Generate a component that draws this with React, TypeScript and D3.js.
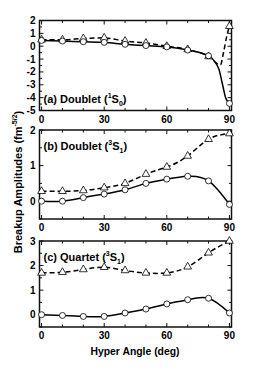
import * as d3 from "d3";

// hyperangle grid (deg) for the markers
const ANGLES = [0, 10, 20, 30, 40, 50, 60, 70, 80, 90];

// (a) doublet 1S0
const A_SOLID = [0.45, 0.4, 0.35, 0.3, 0.15, 0.05, -0.05, -0.3, -0.75, -4.45];
const A_DASH = [0.5, 0.5, 0.6, 0.65, 0.4, 0.25, 0.0, -0.25, -0.8, 1.55];
const A_SOLID_CURVE_X = [0, 10, 20, 30, 40, 50, 60, 70, 80, 84.9, 86.1, 87, 88.1, 89.2, 90];
const A_SOLID_CURVE = [0.45, 0.4, 0.35, 0.3, 0.15, 0.05, -0.05, -0.3, -0.75, -1.76, -2.54, -3.19, -3.97, -4.3, -4.45];
const A_DASH_CURVE_X = [0, 10, 20, 30, 40, 50, 60, 70, 80, 85.7, 87.2, 88.8, 90];
const A_DASH_CURVE = [0.5, 0.5, 0.6, 0.65, 0.4, 0.25, 0.0, -0.25, -0.8, -1.45, -0.47, 0.83, 1.55];
// (b) doublet 3S1
const B_SOLID = [0.0, 0.0, 0.1, 0.2, 0.32, 0.5, 0.62, 0.7, 0.57, -0.09];
const B_DASH = [0.28, 0.28, 0.3, 0.38, 0.5, 0.76, 0.96, 1.27, 1.74, 1.9];
// (c) quartet 3S1
const C_SOLID = [0.0, -0.03, -0.07, -0.07, 0.07, 0.23, 0.44, 0.61, 0.67, 0.07];
const C_DASH = [1.7, 1.73, 1.84, 1.93, 1.8, 1.7, 1.7, 1.95, 2.52, 3.0];

const X_TICKS = [0, 30, 60, 90];
const A_TICKS = [2, 1, 0, -1, -2, -3, -4, -5];
const B_TICKS = [0, 1, 2];
const C_TICKS = [0, 1, 2, 3];

const FONT = "'Liberation Sans', Arial, Helvetica, sans-serif";
const W = 262;
const H = 369;
const LEFT = 39.5;
const RIGHT = 231.5;

const panels = [
  {
    key: "a", top: 20.5, bottom: 110.5, domain: [-5, 2], solid: A_SOLID, dash: A_DASH,
    solidLine: { xs: A_SOLID_CURVE_X, ys: A_SOLID_CURVE, curve: d3.curveMonotoneX },
    dashLine: { xs: A_DASH_CURVE_X, ys: A_DASH_CURVE, curve: d3.curveMonotoneX },
    ticks: A_TICKS, label: ["(a) Doublet (", "1", "S", "0", ")"],
  },
  {
    key: "b", top: 130, bottom: 219, domain: [-0.5, 2], solid: B_SOLID, dash: B_DASH,
    solidLine: { xs: ANGLES, ys: B_SOLID, curve: d3.curveNatural },
    dashLine: { xs: ANGLES, ys: B_DASH, curve: d3.curveNatural },
    ticks: B_TICKS, label: ["(b) Doublet (", "3", "S", "1", ")"],
  },
  {
    key: "c", top: 241, bottom: 327, domain: [-0.5, 3], solid: C_SOLID, dash: C_DASH,
    solidLine: { xs: ANGLES, ys: C_SOLID, curve: d3.curveNatural },
    dashLine: { xs: ANGLES, ys: C_DASH, curve: d3.curveNatural },
    ticks: C_TICKS, label: ["(c) Quartet (", "3", "S", "1", ")"],
  },
];

const x = d3.scaleLinear().domain([-1, 91]).range([LEFT, RIGHT]);
const tri = d3.symbol().type(d3.symbolTriangle).size(26)() ?? "";

function Panel({ p }: { p: (typeof panels)[number] }) {
  const y = d3.scaleLinear().domain(p.domain).range([p.bottom, p.top]);
  const path = (l: { xs: number[]; ys: number[]; curve: d3.CurveFactory }) =>
    d3
      .line<number>()
      .x((_, i) => x(l.xs[i]))
      .y((d) => y(d))
      .curve(l.curve)(l.ys) ?? "";
  const minorY = d3.range(p.domain[0], p.domain[1] + 0.001, 0.5);
  const minorX = d3.range(0, 91, 10);
  return (
    <g>
      {/* ticks, inward on all four sides */}
      {minorY.map((v) => {
        const major = Math.abs(v - Math.round(v)) < 1e-6;
        const len = major ? 4 : 2.5;
        return (
          <g key={"y" + v} stroke="#111" strokeWidth={1}>
            <line x1={LEFT} x2={LEFT + len} y1={y(v)} y2={y(v)} />
            <line x1={RIGHT} x2={RIGHT - len} y1={y(v)} y2={y(v)} />
          </g>
        );
      })}
      {minorX.map((v) => {
        const len = v % 30 === 0 ? 4 : 2.5;
        return (
          <g key={"x" + v} stroke="#111" strokeWidth={1}>
            <line x1={x(v)} x2={x(v)} y1={p.bottom} y2={p.bottom - len} />
            <line x1={x(v)} x2={x(v)} y1={p.top} y2={p.top + len} />
          </g>
        );
      })}
      <rect x={LEFT} y={p.top} width={RIGHT - LEFT} height={p.bottom - p.top} fill="none" stroke="#111" strokeWidth={1.5} />
      {p.ticks.map((v) => (
        <text key={"yl" + v} x={LEFT - 4} y={y(v) + 3.5} textAnchor="end" fontSize={10} fontWeight="bold" fontFamily={FONT}>
          {v}
        </text>
      ))}
      {X_TICKS.map((v) => (
        <text key={"xl" + v} x={x(v)} y={p.bottom + 12} textAnchor="middle" fontSize={10} fontWeight="bold" fontFamily={FONT}>
          {v}
        </text>
      ))}
      <path d={path(p.dashLine)} fill="none" stroke="#000" strokeWidth={1.5} strokeDasharray="5,3" />
      <path d={path(p.solidLine)} fill="none" stroke="#000" strokeWidth={1.5} />
      {p.dash.map((v, i) => (
        <path key={"t" + i} d={tri} transform={`translate(${x(ANGLES[i])},${y(v)})`} fill="#fff" stroke="#000" strokeWidth={0.8} />
      ))}
      {p.solid.map((v, i) => (
        <circle key={"c" + i} cx={x(ANGLES[i])} cy={y(v)} r={3} fill="#fff" stroke="#000" strokeWidth={0.8} />
      ))}
      <text x={LEFT + 4} y={p.key === "a" ? 103 : p.top + 20} fontSize={11} fontWeight="bold" fontFamily={FONT}>
        {p.label[0]}
        <tspan fontSize={7} dy={-5}>{p.label[1]}</tspan>
        <tspan fontSize={11} dy={5}>{p.label[2]}</tspan>
        <tspan fontSize={7} dy={3}>{p.label[3]}</tspan>
        <tspan fontSize={11} dy={-3}>{p.label[4]}</tspan>
      </text>
    </g>
  );
}

export default function App() {
  return (
    <svg width={W} height={H} style={{ position: "absolute", left: 0, top: 0, background: "#fff" }}>
      {panels.map((p) => (
        <Panel key={p.key} p={p} />
      ))}
      <text transform="translate(22,182) rotate(-90)" textAnchor="middle" fontSize={11} fontWeight="bold" fontFamily={FONT}>
        Breakup Amplitudes (fm
        <tspan fontSize={7} dy={-5}>-5/2</tspan>
        <tspan fontSize={11} dy={5}>)</tspan>
      </text>
      <text x={135} y={354.5} textAnchor="middle" fontSize={10.4} fontWeight="bold" fontFamily={FONT}>
        Hyper Angle (deg)
      </text>
    </svg>
  );
}
